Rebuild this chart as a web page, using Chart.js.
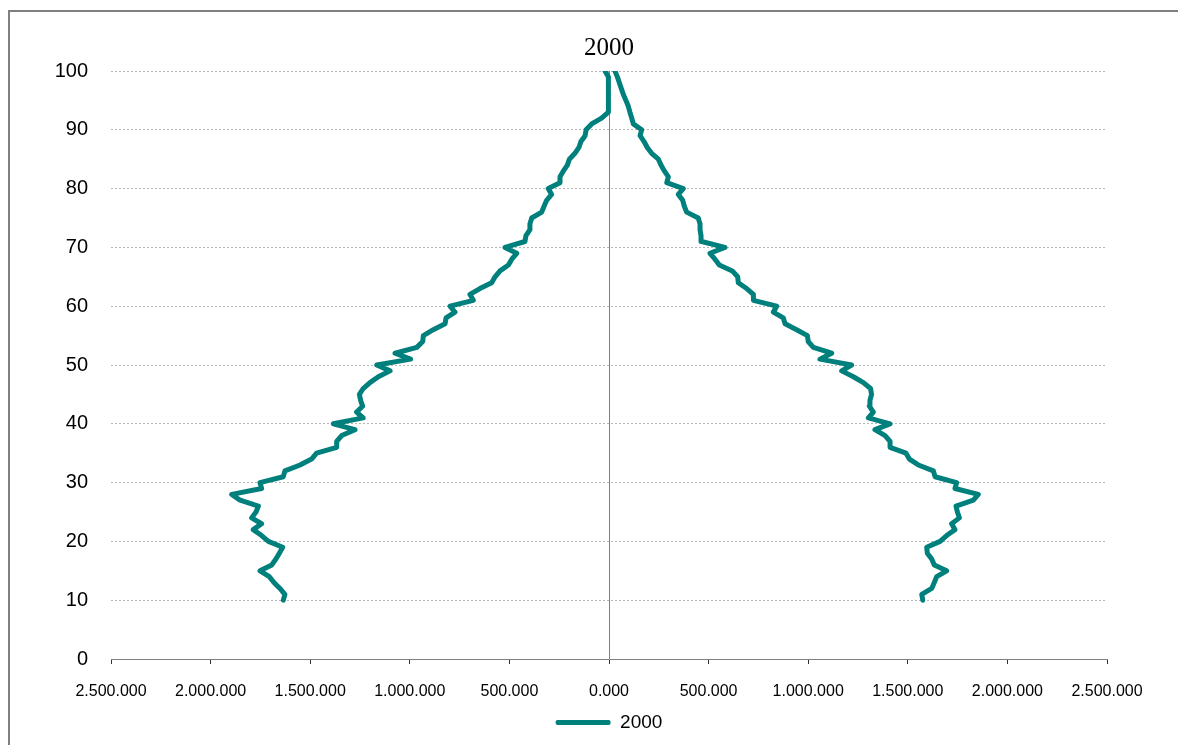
<!DOCTYPE html>
<html lang="es">
<head>
  <meta charset="UTF-8">
  <title>Pirámide 2000</title>
  <script src="https://cdn.jsdelivr.net/npm/chart.js"></script>
  <style>
    html, body { margin: 0; padding: 0; background: #fff; }
    #wrap { position: relative; width: 1178px; height: 745px; overflow: hidden; }
    #frame { position: absolute; left: 8px; top: 10px; width: 1200px; height: 800px;
             border-left: 2px solid #808080; border-top: 2px solid #808080; }
    canvas { position: absolute; left: 0; top: 0; }
  </style>
</head>
<body>
  <div id="wrap">
    <div id="frame"></div>
    <canvas id="grafik" width="1178" height="745"></canvas>
  </div>

  <script>
    // edades 10..100
    const edades = [10,11,12,13,14,15,16,17,18,19,20,21,22,23,24,25,26,27,28,29,
      30,31,32,33,34,35,36,37,38,39,40,41,42,43,44,45,46,47,48,49,
      50,51,52,53,54,55,56,57,58,59,60,61,62,63,64,65,66,67,68,69,
      70,71,72,73,74,75,76,77,78,79,80,81,82,83,84,85,86,87,88,89,
      90,91,92,93,94,95,96,97,98,99,100];

    // lado izquierdo (negativo)
    const izquierda = [-1635000,-1627000,-1652000,-1682000,-1705000,-1752000,-1693000,-1672000,-1655000,-1638000,
      -1710000,-1744000,-1786000,-1744000,-1794000,-1772000,-1760000,-1852000,-1894000,-1744000,
      -1752000,-1635000,-1627000,-1551000,-1493000,-1468000,-1367000,-1367000,-1342000,-1275000,
      -1384000,-1234000,-1267000,-1237000,-1247000,-1253000,-1234000,-1200000,-1158000,-1099000,
      -1166000,-996000,-1074000,-965000,-935000,-932000,-882000,-823000,-818000,-773000,
      -798000,-681000,-698000,-648000,-589000,-572000,-547000,-505000,-488000,-463000,
      -522000,-422000,-417000,-397000,-397000,-388000,-338000,-326000,-313000,-288000,
      -305000,-246000,-246000,-229000,-209000,-199000,-171000,-151000,-141000,-120000,
      -115000,-87000,-37000,-3000,-3000,-3000,-3000,-3000,-3000,-3000,-20000];

    // lado derecho
    const derecha = [1575000,1570000,1620000,1633000,1645000,1695000,1633000,1620000,1598000,1595000,
      1662000,1695000,1737000,1720000,1759000,1749000,1742000,1829000,1854000,1737000,
      1745000,1637000,1628000,1553000,1508000,1491000,1411000,1411000,1386000,1335000,
      1411000,1302000,1327000,1307000,1310000,1318000,1313000,1277000,1227000,1168000,
      1218000,1059000,1118000,1026000,1000000,996000,942000,884000,875000,825000,
      842000,725000,725000,691000,649000,646000,619000,554000,532000,507000,
      582000,465000,462000,457000,457000,448000,390000,378000,370000,348000,
      373000,290000,298000,278000,261000,248000,214000,192000,176000,156000,
      164000,122000,114000,105000,97000,85000,72000,62000,52000,42000,30000];

    const etiquetasX = ['2.500.000','2.000.000','1.500.000','1.000.000','500.000','0.000',
      '500.000','1.000.000','1.500.000','2.000.000','2.500.000'];

    const warna = '#00807c';

    const serie = (vals) => vals.map((v, i) => ({ x: v, y: edades[i] }));

    const lineStyle = {
      borderColor: warna,
      backgroundColor: warna,
      borderWidth: 5,
      pointRadius: 0,
      tension: 0,
      borderCapStyle: 'round',
      borderJoinStyle: 'round',
      fill: false
    };

    new Chart(document.getElementById('grafik'), {
      type: 'line',
      data: {
        datasets: [
          Object.assign({ label: '2000', data: serie(izquierda) }, lineStyle),
          Object.assign({ label: '2000', data: serie(derecha) }, lineStyle)
        ]
      },
      options: {
        responsive: false,
        animation: false,
        layout: { padding: { left: 0, right: 71, top: 0, bottom: 3 } },
        plugins: {
          title: {
            display: true,
            fullSize: false,
            text: '2000',
            color: '#000',
            font: { family: '"Liberation Serif", "DejaVu Serif", serif', size: 25, weight: 'normal', lineHeight: 1.2 },
            padding: { top: 33, bottom: 8 }
          },
          legend: {
            position: 'bottom',
            fullSize: false,
            labels: {
              filter: (item) => item.datasetIndex === 0,
              generateLabels: (chart) => Chart.defaults.plugins.legend.labels.generateLabels(chart)
                .map((it) => Object.assign(it, { lineWidth: 0 })),
              boxWidth: 55,
              boxHeight: 5,
              useBorderRadius: true,
              borderRadius: 2,
              padding: 10,
              color: '#000',
              font: { family: '"Liberation Sans", Arial, sans-serif', size: 19 }
            }
          },
          tooltip: { enabled: false }
        },
        scales: {
          x: {
            type: 'linear',
            min: -2500000,
            max: 2500000,
            ticks: {
              stepSize: 500000,
              color: '#000',
              padding: 18,
              maxRotation: 0,
              font: { family: '"Liberation Sans", Arial, sans-serif', size: 16 },
              callback: (v, i) => etiquetasX[i]
            },
            grid: {
              color: (ctx) => (ctx.tick && ctx.tick.value === 0) ? '#7f7f7f' : 'rgba(0,0,0,0)',
              tickColor: '#333',
              tickLength: 5,
              lineWidth: 1
            },
            border: { display: true, color: '#808080', width: 1 },
            afterFit: (s) => { s.height = 44; }
          },
          y: {
            type: 'linear',
            min: 0,
            max: 100,
            ticks: {
              stepSize: 10,
              color: '#000',
              padding: 23,
              font: { family: '"Liberation Sans", Arial, sans-serif', size: 20 }
            },
            grid: {
              color: (ctx) => (ctx.tick && ctx.tick.value === 0) ? 'rgba(0,0,0,0)' : '#b4b4b4',
              drawTicks: false,
              lineWidth: 1
            },
            border: { display: false, dash: [2, 2] },
            afterFit: (s) => { s.width = 111; }
          }
        }
      }
    });
  </script>
</body>
</html>
